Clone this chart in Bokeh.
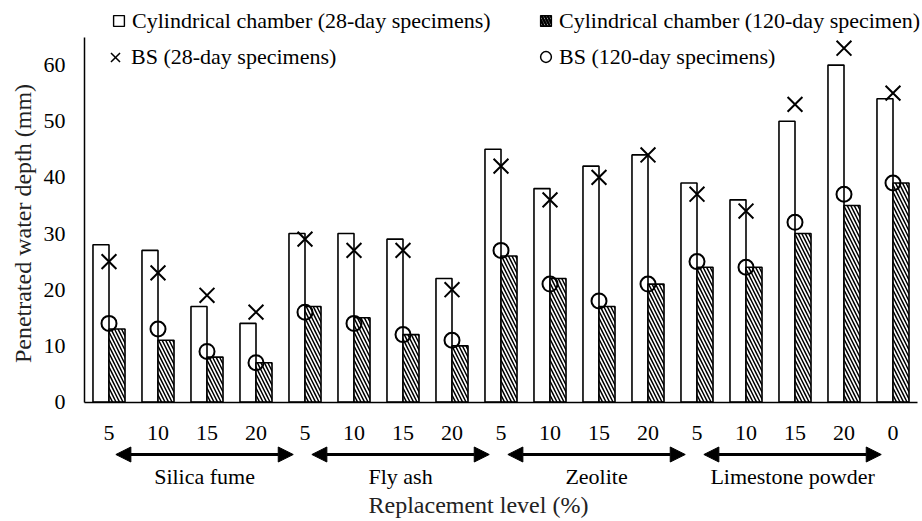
import math
from bokeh.plotting import figure
from bokeh.models import (ColumnDataSource, Range1d, FixedTicker, Legend, LegendItem,
                          Arrow, NormalHead, LabelSet, Label)
from bokeh.transform import dodge
from bokeh.core.properties import value
from bokeh.embed import file_html
from bokeh.resources import INLINE

# ---------------- data ----------------
levels = ["5", "10", "15", "20", "5", "10", "15", "20",
          "5", "10", "15", "20", "5", "10", "15", "20", "0"]
cyl_28 = [28, 27, 17, 14, 30, 30, 29, 22, 45, 38, 42, 44, 39, 36, 50, 60, 54]
cyl_120 = [13, 11, 8, 7, 17, 15, 12, 10, 26, 22, 17, 21, 24, 24, 30, 35, 39]
bs_28 = [25, 23, 19, 16, 29, 27, 27, 20, 42, 36, 40, 44, 37, 34, 53, 63, 55]
bs_120 = [14, 13, 9, 7, 16, 14, 12, 11, 27, 21, 18, 21, 25, 24, 32, 37, 39]
groups = ["Silica fume", "Fly ash", "Zeolite", "Limestone powder"]
group_size = 4
y_ticks = [0, 10, 20, 30, 40, 50, 60]

# ---------------- layout / style ----------------
FONT = "Liberation Serif"
W, H = 922, 521
Y0_PX = 401.5        # canvas y of value 0
AXIS_LEFT_PX = 84    # canvas x of the y axis
AXIS_RIGHT_PX = 917
Y_MAX = 65
PX_PER_Y = 365 / Y_MAX
PX_PER_X = 49.0
BAR_W = 0.327

n = len(levels)
pos = list(range(1, n + 1))
x_lo = 0.5
x_hi = x_lo + (AXIS_RIGHT_PX - AXIS_LEFT_PX) / PX_PER_X
x_start = x_lo - AXIS_LEFT_PX / PX_PER_X
x_end = x_lo + (W - AXIS_LEFT_PX) / PX_PER_X
y_start = -(H - Y0_PX) / PX_PER_Y
y_end = Y0_PX / PX_PER_Y

def px_below(d):
    """data y for a distance d (px) below the zero line"""
    return -d / PX_PER_Y

src = ColumnDataSource(dict(x=pos, cyl28=cyl_28, cyl120=cyl_120, bs28=bs_28, bs120=bs_120))

p = figure(width=W, height=H, x_range=Range1d(x_start, x_end), y_range=Range1d(y_start, y_end),
           output_backend="svg", toolbar_location=None,
           min_border_left=0, min_border_right=0, min_border_top=0, min_border_bottom=0)
p.outline_line_color = None
p.xgrid.visible = False
p.ygrid.visible = False
p.background_fill_color = "white"
p.border_fill_color = "white"

# bars
p.vbar(x=dodge("x", -BAR_W / 2, range=p.x_range), top="cyl28", width=BAR_W, bottom=0,
       source=src, fill_color="white", line_color="black", line_width=1.6)
p.vbar(x=dodge("x", BAR_W / 2, range=p.x_range), top="cyl120", width=BAR_W, bottom=0,
       source=src, fill_color="white", line_color="black", line_width=1.6,
       hatch_pattern="\\", hatch_color="black", hatch_weight=1.5, hatch_scale=7)

# markers
p.scatter(x="x", y="bs28", source=src, marker="x", size=21, line_color="black", line_width=2)
p.scatter(x="x", y="bs120", source=src, marker="circle", size=15, fill_alpha=0,
          line_color="black", line_width=2)

# legend proxies (hidden renderers on the same data)
r_l1 = p.scatter(x="x", y="cyl28", source=src, marker="square", fill_color="white",
                 line_color="black", line_width=1.4, visible=False)
r_l2 = p.scatter(x="x", y="cyl120", source=src, marker="square", fill_color="white",
                 line_color="black", line_width=1.4, visible=False,
                 hatch_pattern="\\", hatch_color="black", hatch_weight=2.5, hatch_scale=6)
r_l3 = p.scatter(x="x", y="bs28", source=src, marker="x", line_color="black",
                 line_width=1.5, visible=False)
r_l4 = p.scatter(x="x", y="bs120", source=src, marker="circle", fill_alpha=0,
                 line_color="black", line_width=1.5, visible=False)

ROW1_C, ROW2_C = 20.5, 56.5
def make_legend(label, rend, text_left, row_c, gl=27):
    lg = Legend(items=[LegendItem(label=label, renderers=[rend])],
                location=(text_left - gl, H - (row_c + gl / 2)),
                padding=0, margin=0, spacing=0, border_line_color=None,
                background_fill_alpha=0, inactive_fill_alpha=0,
                glyph_width=gl, glyph_height=gl,
                label_height=gl, label_standoff=0, label_text_font=FONT,
                label_text_font_size="22px", label_text_color="black")
    p.add_layout(lg)

make_legend("Cylindrical chamber (28-day specimens)", r_l1, 132, ROW1_C)
make_legend("Cylindrical chamber (120-day specimen)", r_l2, 559, ROW1_C)
make_legend("BS (28-day specimens)", r_l3, 131, ROW2_C, gl=32)
make_legend("BS (120-day specimens)", r_l4, 559, ROW2_C)

# axes (fixed at the data origin, titles drawn as labels)
xa = p.xaxis[0]
xa.fixed_location = 0
xa.bounds = (x_lo, x_hi)
xa.ticker = FixedTicker(ticks=pos)
xa.major_label_overrides = {i: lab for i, lab in zip(pos, levels)}
ya = p.yaxis[0]
ya.fixed_location = x_lo
ya.bounds = (0, Y_MAX)
ya.ticker = FixedTicker(ticks=y_ticks)
for ax in (xa, ya):
    ax.major_tick_out = 0
    ax.major_tick_in = 0
    ax.minor_tick_out = 0
    ax.minor_tick_in = 0
    ax.axis_line_width = 1.5
    ax.axis_line_color = "black"
    ax.major_label_text_font = FONT
    ax.major_label_text_font_size = "22px"
    ax.major_label_text_color = "black"
xa.major_label_standoff = 24
ya.major_label_standoff = 19

TITLE = dict(text_font=FONT, text_font_size="24px", text_color="#222222",
             text_align="center", text_baseline="middle")
p.add_layout(Label(x=(x_lo + x_hi) / 2 - 0.46, y=px_below(102.5), text="Replacement level (%)",
                   **TITLE))
p.add_layout(Label(x=22, x_units="screen", y=(Y0_PX - 223) / PX_PER_Y, angle=math.pi / 2,
                   text="Penetrated water depth (mm)", **TITLE))

# group arrows and labels under the axis
ARROW_START, ARROW_END = 0.64, 4.26
g_left = [x_lo + k * group_size for k in range(len(groups))]
xs = [g + ARROW_START for g in g_left]
xe = [g + ARROW_END for g in g_left]
asrc = ColumnDataSource(dict(xs=xs, xe=xe, y=[px_below(52.5)] * len(groups),
                             xm=[(a + b) / 2 for a, b in zip(xs, xe)],
                             ly=[px_below(74)] * len(groups), name=groups))
head = dict(size=15, fill_color="black", line_color="black", line_width=1)
p.add_layout(Arrow(start=NormalHead(**head), end=NormalHead(**head),
                   x_start="xs", y_start="y", x_end="xe", y_end="y", source=asrc,
                   line_width=3, line_color="black"))
p.add_layout(LabelSet(x="xm", y="ly", text="name", source=asrc, text_align="center",
                      text_baseline="middle", text_font=value(FONT),
                      text_font_size=value("22px"), text_color="black"))

open("out.html", "w").write(file_html(p, INLINE))
